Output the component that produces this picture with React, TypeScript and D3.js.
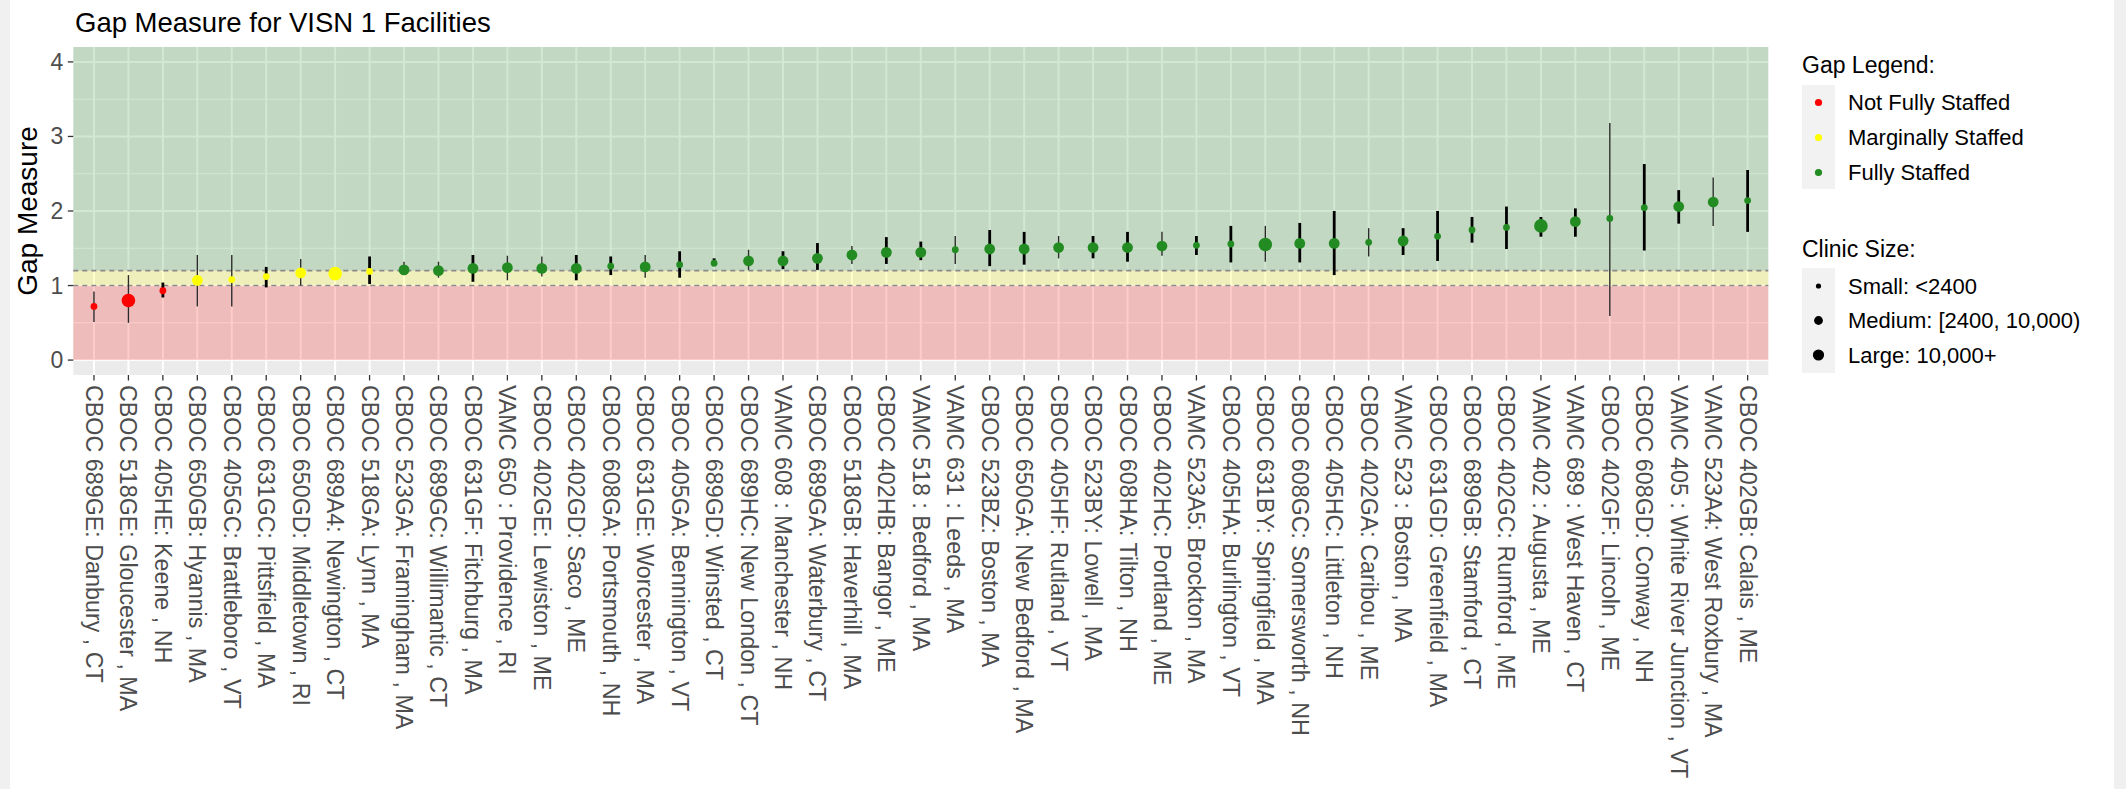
import React from 'react';
import * as d3 from 'd3';

const categories = [
  'CBOC 689GE: Danbury , CT', 'CBOC 518GE: Gloucester , MA', 'CBOC 405HE: Keene , NH',
  'CBOC 650GB: Hyannis , MA', 'CBOC 405GC: Brattleboro , VT', 'CBOC 631GC: Pittsfield , MA',
  'CBOC 650GD: Middletown , RI', 'CBOC 689A4: Newington , CT', 'CBOC 518GA: Lynn , MA',
  'CBOC 523GA: Framingham , MA', 'CBOC 689GC: Willimantic , CT', 'CBOC 631GF: Fitchburg , MA',
  'VAMC 650 : Providence , RI', 'CBOC 402GE: Lewiston , ME', 'CBOC 402GD: Saco , ME',
  'CBOC 608GA: Portsmouth , NH', 'CBOC 631GE: Worcester , MA', 'CBOC 405GA: Bennington , VT',
  'CBOC 689GD: Winsted , CT', 'CBOC 689HC: New London , CT', 'VAMC 608 : Manchester , NH',
  'CBOC 689GA: Waterbury , CT', 'CBOC 518GB: Haverhill , MA', 'CBOC 402HB: Bangor , ME',
  'VAMC 518 : Bedford , MA', 'VAMC 631 : Leeds , MA', 'CBOC 523BZ: Boston , MA',
  'CBOC 650GA: New Bedford , MA', 'CBOC 405HF: Rutland , VT', 'CBOC 523BY: Lowell , MA',
  'CBOC 608HA: Tilton , NH', 'CBOC 402HC: Portland , ME', 'VAMC 523A5: Brockton , MA',
  'CBOC 405HA: Burlington , VT', 'CBOC 631BY: Springfield , MA', 'CBOC 608GC: Somersworth , NH',
  'CBOC 405HC: Littleton , NH', 'CBOC 402GA: Caribou , ME', 'VAMC 523 : Boston , MA',
  'CBOC 631GD: Greenfield , MA', 'CBOC 689GB: Stamford , CT', 'CBOC 402GC: Rumford , ME',
  'VAMC 402 : Augusta , ME', 'VAMC 689 : West Haven , CT', 'CBOC 402GF: Lincoln , ME',
  'CBOC 608GD: Conway , NH', 'VAMC 405 : White River Junction , VT', 'VAMC 523A4: West Roxbury , MA',
  'CBOC 402GB: Calais , ME',
];

const gapValues = [
  0.72, 0.80, 0.93, 1.07, 1.08, 1.12, 1.17, 1.16, 1.19,
  1.21, 1.20, 1.23, 1.24, 1.23, 1.23, 1.26, 1.25, 1.28,
  1.30, 1.33, 1.33, 1.365, 1.41, 1.445, 1.445, 1.48, 1.49,
  1.49, 1.51, 1.51, 1.51, 1.53, 1.54, 1.557, 1.55, 1.565,
  1.565, 1.58, 1.60, 1.66, 1.745, 1.78, 1.80, 1.857, 1.90,
  2.045, 2.06, 2.12, 2.14,
];

const lowerValues = [
  0.51, 0.50, 0.84, 0.72, 0.72, 0.975, 1.0, 1.08, 1.02,
  1.14, 1.105, 1.05, 1.07, 1.12, 1.07, 1.14, 1.105, 1.105,
  1.26, 1.21, 1.22, 1.21, 1.29, 1.29, 1.34, 1.29, 1.26,
  1.28, 1.365, 1.365, 1.32, 1.40, 1.41, 1.31, 1.32, 1.31,
  1.14, 1.39, 1.41, 1.33, 1.575, 1.49, 1.655, 1.655, 0.59,
  1.47, 1.83, 1.80, 1.72,
];

const upperValues = [
  0.92, 1.14, 1.04, 1.41, 1.41, 1.25, 1.355, 1.25, 1.39,
  1.32, 1.32, 1.41, 1.40, 1.39, 1.41, 1.39, 1.41, 1.46,
  1.365, 1.48, 1.46, 1.57, 1.53, 1.65, 1.59, 1.665, 1.745,
  1.72, 1.665, 1.665, 1.72, 1.72, 1.665, 1.80, 1.80, 1.84,
  2.00, 1.77, 1.77, 2.00, 1.92, 2.06, 1.92, 2.035, 3.18,
  2.63, 2.28, 2.45, 2.55,
];

// N = Not Fully Staffed, M = Marginally Staffed, F = Fully Staffed
const staffStatus = [
  'N', 'N', 'N', 'M', 'M', 'M', 'M', 'M', 'M',
  'F', 'F', 'F', 'F', 'F', 'F', 'F', 'F', 'F',
  'F', 'F', 'F', 'F', 'F', 'F', 'F', 'F', 'F',
  'F', 'F', 'F', 'F', 'F', 'F', 'F', 'F', 'F',
  'F', 'F', 'F', 'F', 'F', 'F', 'F', 'F', 'F',
  'F', 'F', 'F', 'F',
];

// S = Small, M = Medium, L = Large
const clinicSizes = [
  'S', 'L', 'S', 'M', 'S', 'S', 'M', 'L', 'S',
  'M', 'M', 'M', 'M', 'M', 'M', 'S', 'M', 'S',
  'S', 'M', 'M', 'M', 'M', 'M', 'M', 'S', 'M',
  'M', 'M', 'M', 'M', 'M', 'S', 'S', 'L', 'M',
  'M', 'S', 'M', 'S', 'S', 'S', 'L', 'M', 'S',
  'S', 'M', 'M', 'S',
];

// interval line weight group: 0 = thin, 1 = thick
const intervalGroup = [
  0, 0, 1, 0, 0, 1, 0, 0, 1,
  0, 0, 1, 0, 0, 1, 1, 0, 1,
  1, 0, 1, 1, 0, 1, 1, 0, 1,
  1, 0, 1, 1, 0, 1, 1, 0, 1,
  1, 0, 1, 1, 1, 1, 1, 1, 0,
  1, 1, 0, 1,
];

const yTicks = [0, 1, 2, 3, 4];
const yMinorTicks = [0.5, 1.5, 2.5, 3.5];
const zoneBounds = [0, 1, 1.2];
const gapLegendKeys = ['N', 'M', 'F'];
const gapLegendLabels = ['Not Fully Staffed', 'Marginally Staffed', 'Fully Staffed'];
const sizeLegendKeys = ['S', 'M', 'L'];
const sizeLegendLabels = ['Small: <2400', 'Medium: [2400, 10,000)', 'Large: 10,000+'];

const W = 2126;
const H = 789;
const FONT = '"Liberation Sans", Arial, sans-serif';

export default function App() {
  const left = 73.3, right = 1768.3, top = 47, bottom = 375;
  const x = d3.scalePoint<string>().domain(categories).range([left, right]).padding(0.6);
  const y = d3.scaleLinear().domain([-0.2, 4.2]).range([bottom, top]);
  const color = d3.scaleOrdinal<string, string>().domain(['N', 'M', 'F']).range(['#FF0000', '#FFFF00', '#228B22']);
  const radius = d3.scaleOrdinal<string, number>().domain(['S', 'M', 'L']).range([3.4, 5.4, 6.8]);
  const lineW = d3.scaleOrdinal<number, number>().domain([0, 1]).range([1.4, 2.8]);
  const lineC = d3.scaleOrdinal<number, string>().domain([0, 1]).range(['#2b2b2b', '#000000']);

  const legX = 1802;
  const keyCx = legX + 16.5;
  const labX = 1848;

  return (
    <svg width={W} height={H} style={{ position: 'absolute', left: 0, top: 0, background: '#fff' }}
      fontFamily={FONT}>
      <rect x={0} y={0} width={W} height={H} fill="#ffffff" />
      <rect x={0} y={0} width={10} height={H} fill="#F0F0F0" />
      <rect x={2114} y={0} width={12} height={H} fill="#F0F0F0" />

      {/* panel background */}
      <rect x={left} y={top} width={right - left} height={bottom - top} fill="#EBEBEB" />
      {yMinorTicks.map((t) => (
        <line key={'mn' + t} x1={left} x2={right} y1={y(t)} y2={y(t)} stroke="#fff" strokeWidth={1} />
      ))}
      {yTicks.map((t) => (
        <line key={'mj' + t} x1={left} x2={right} y1={y(t)} y2={y(t)} stroke="#fff" strokeWidth={2} />
      ))}
      {categories.map((c) => (
        <line key={'vg' + c} x1={x(c)} x2={x(c)} y1={top} y2={bottom} stroke="#fff" strokeWidth={2} />
      ))}

      {/* zones */}
      <rect x={left} width={right - left} y={y(zoneBounds[1])} height={y(zoneBounds[0]) - y(zoneBounds[1])}
        fill="#FF0000" fillOpacity={0.2} />
      <rect x={left} width={right - left} y={y(zoneBounds[2])} height={y(zoneBounds[1]) - y(zoneBounds[2])}
        fill="#FFFF00" fillOpacity={0.2} />
      <rect x={left} width={right - left} y={top} height={y(zoneBounds[2]) - top}
        fill="#228B22" fillOpacity={0.2} />
      {[zoneBounds[1], zoneBounds[2]].map((t) => (
        <line key={'dl' + t} x1={left} x2={right} y1={y(t)} y2={y(t)} stroke="#8a8a8a"
          strokeWidth={1.6} strokeDasharray="5,4" />
      ))}

      {/* intervals */}
      {categories.map((c, i) => (
        <line key={'iv' + c} x1={x(c)} x2={x(c)} y1={y(lowerValues[i])} y2={y(upperValues[i])}
          stroke={lineC(intervalGroup[i])} strokeWidth={lineW(intervalGroup[i])} />
      ))}
      {/* points */}
      {categories.map((c, i) => (
        <circle key={'pt' + c} cx={x(c)} cy={y(gapValues[i])} r={radius(clinicSizes[i])}
          fill={color(staffStatus[i])} />
      ))}

      {/* y axis */}
      {yTicks.map((t) => (
        <g key={'yt' + t}>
          <line x1={left - 5.5} x2={left} y1={y(t)} y2={y(t)} stroke="#333" strokeWidth={1.3} />
          <text x={left - 10} y={y(t)} textAnchor="end" dominantBaseline="central" fontSize={23}
            fill="#4D4D4D">{t}</text>
        </g>
      ))}
      <text transform={`translate(27,${(top + bottom) / 2}) rotate(-90)`} textAnchor="middle"
        dominantBaseline="central" fontSize={28} fill="#000">Gap Measure</text>

      {/* x axis */}
      {categories.map((c) => (
        <g key={'xt' + c}>
          <line x1={x(c)} x2={x(c)} y1={bottom} y2={bottom + 5.5} stroke="#333" strokeWidth={1.3} />
          <text transform={`translate(${x(c)},${bottom + 10}) rotate(90)`} textAnchor="start"
            dominantBaseline="central" fontSize={23.3} fill="#4D4D4D">{c}</text>
        </g>
      ))}

      {/* title */}
      <text x={75} y={32} fontSize={27.5} fill="#000">Gap Measure for VISN 1 Facilities</text>

      {/* legend: gap */}
      <text x={legX} y={73} fontSize={23} fill="#000">Gap Legend:</text>
      <rect x={legX} y={85} width={33} height={104} fill="#F2F2F2" />
      {gapLegendKeys.map((k, i) => (
        <g key={'gl' + k}>
          <circle cx={keyCx} cy={102.5 + i * 35} r={3.6} fill={color(k)} />
          <text x={labX} y={102.5 + i * 35} dominantBaseline="central" fontSize={22} fill="#000">
            {gapLegendLabels[i]}</text>
        </g>
      ))}

      {/* legend: size */}
      <text x={legX} y={257} fontSize={23} fill="#000">Clinic Size:</text>
      <rect x={legX} y={268} width={33} height={105} fill="#F2F2F2" />
      {sizeLegendKeys.map((k, i) => (
        <g key={'sl' + k}>
          <circle cx={keyCx} cy={286 + i * 34.5} r={[2.6, 4.4, 5.6][i]} fill="#000" />
          <text x={labX} y={286 + i * 34.5} dominantBaseline="central" fontSize={22} fill="#000">
            {sizeLegendLabels[i]}</text>
        </g>
      ))}
    </svg>
  );
}
